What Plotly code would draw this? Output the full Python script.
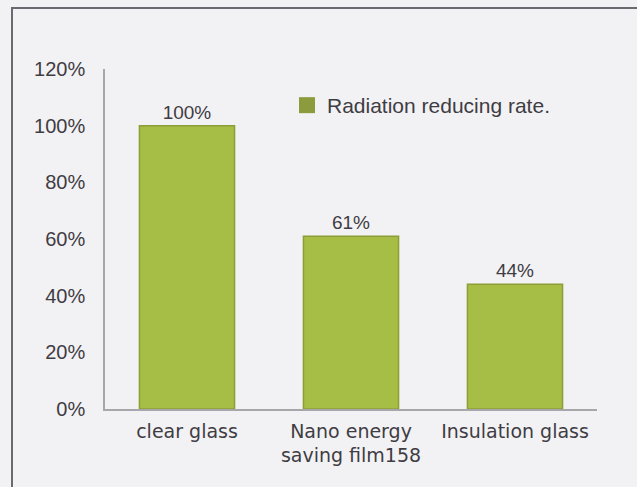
import plotly.graph_objects as go

# Chart data
categories = ["clear glass", "Nano energy<br>saving film158", "Insulation glass"]
values = [100, 61, 44]
value_labels = ["100%", "61%", "44%"]
series_name = "Radiation reducing rate."
tick_vals = [0, 20, 40, 60, 80, 100, 120]
tick_text = ["0%", "20%", "40%", "60%", "80%", "100%", "120%"]

W, H = 637, 487
L, R, T, B = 105, 40, 69, 78
pw, ph = W - L - R, H - T - B

def px_x(x):
    return (x - L) / pw

def px_y(y):
    return (H - B - y) / ph

bar_fill = "#a6bd46"
bar_edge = "#8c9e36"
text_col = "#3f3c43"

fig = go.Figure()

fig.add_trace(go.Bar(
    x=categories,
    y=values,
    width=0.58,
    marker=dict(color=bar_fill, line=dict(color=bar_edge, width=1.5)),
    text=value_labels,
    textposition="outside",
    textfont=dict(family="Liberation Sans, Arial", size=19, color=text_col),
    cliponaxis=False,
    showlegend=False,
))

# Legend entry with the darker olive key
fig.add_trace(go.Scatter(
    x=[None], y=[None],
    mode="markers",
    name=series_name,
    marker=dict(symbol="square", size=18, color="#8c9c3c"),
    showlegend=True,
))

# Outer frame around the whole chart
fig.add_shape(
    type="rect", xref="paper", yref="paper",
    x0=px_x(12), x1=px_x(642), y0=px_y(492), y1=px_y(8),
    line=dict(color="#6c6a70", width=2),
    fillcolor="rgba(0,0,0,0)", layer="below",
)

fig.update_layout(
    width=W, height=H,
    margin=dict(l=L, r=R, t=T, b=B),
    paper_bgcolor="#f2f2f4",
    plot_bgcolor="#f2f2f4",
    bargap=0.42,
    legend=dict(
        x=px_x(287), y=px_y(85), xanchor="left", yanchor="top",
        bgcolor="rgba(0,0,0,0)",
        font=dict(family="Liberation Sans, Arial", size=21, color=text_col),
        itemwidth=30,
    ),
    xaxis=dict(
        showgrid=False,
        showline=True, linecolor="#a8a6aa", linewidth=1.5,
        ticks="", ticklabelstandoff=4,
        tickfont=dict(family="DejaVu Sans", size=19, color=text_col),
        fixedrange=True,
    ),
    yaxis=dict(
        range=[0, 120],
        tickvals=tick_vals, ticktext=tick_text,
        showgrid=False, zeroline=False,
        showline=True, linecolor="#a8a6aa", linewidth=1.5,
        ticks="", ticklabelstandoff=14,
        tickfont=dict(family="Liberation Sans, Arial", size=20, color=text_col),
        fixedrange=True,
    ),
)

fig.write_html("out.html")
